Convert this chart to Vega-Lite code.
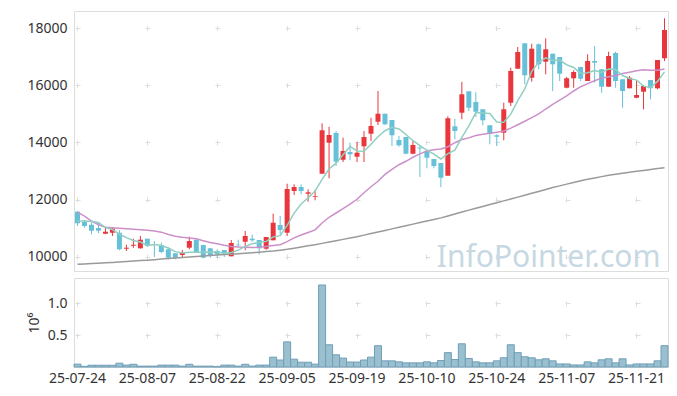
{
  "$schema": "https://vega.github.io/schema/vega-lite/v6.json",
  "background": "white",
  "padding": {"left": 26, "top": 10, "right": 10, "bottom": 5},
  "spacing": 3,
  "config": {
    "font": "Noto Sans",
    "view": {"stroke": "#dddddd", "strokeWidth": 1},
    "axis": {"labelFont": "Noto Sans", "labelFontSize": 14, "labelColor": "#333333", "titleFont": "Noto Sans", "titleFontSize": 14, "titleFontWeight": "normal", "titleColor": "#333333"}
  },
  "data": {"values": [
    {"d":"25-07-24","o":11575,"h":11600,"l":11075,"c":11170,"v":45000,"m5":11250,"m20":11560,"m120":9735},
    {"d":"25-07-25","o":11215,"h":11285,"l":11015,"c":11075,"v":10000,"m5":11250,"m20":11420,"m120":9748},
    {"d":"25-07-28","o":11120,"h":11190,"l":10785,"c":10910,"v":28000,"m5":11230,"m20":11250,"m120":9761},
    {"d":"25-07-29","o":11005,"h":11215,"l":10820,"c":10910,"v":28000,"m5":11200,"m20":11120,"m120":9774},
    {"d":"25-07-30","o":10805,"h":11050,"l":10805,"c":10875,"v":28000,"m5":11020,"m20":11030,"m120":9787},
    {"d":"25-07-31","o":10840,"h":11015,"l":10725,"c":10980,"v":28000,"m5":10950,"m20":11010,"m120":9800},
    {"d":"25-08-01","o":10840,"h":10925,"l":10225,"c":10260,"v":60000,"m5":10787,"m20":10995,"m120":9816},
    {"d":"25-08-04","o":10280,"h":10420,"l":10200,"c":10315,"v":30000,"m5":10668,"m20":10980,"m120":9832},
    {"d":"25-08-05","o":10385,"h":10630,"l":10315,"c":10420,"v":43000,"m5":10570,"m20":10965,"m120":9848},
    {"d":"25-08-06","o":10295,"h":10725,"l":10280,"c":10595,"v":14000,"m5":10514,"m20":10945,"m120":9864},
    {"d":"25-08-07","o":10630,"h":10630,"l":10340,"c":10375,"v":14000,"m5":10393,"m20":10925,"m120":9880},
    {"d":"25-08-08","o":10440,"h":10550,"l":9990,"c":10420,"v":14000,"m5":10425,"m20":10900,"m120":9898},
    {"d":"25-08-11","o":10410,"h":10490,"l":10120,"c":10165,"v":30000,"m5":10395,"m20":10860,"m120":9916},
    {"d":"25-08-12","o":10260,"h":10340,"l":9910,"c":9965,"v":30000,"m5":10304,"m20":10780,"m120":9934},
    {"d":"25-08-13","o":10120,"h":10120,"l":9910,"c":9965,"v":30000,"m5":10178,"m20":10720,"m120":9952},
    {"d":"25-08-14","o":10060,"h":10235,"l":9965,"c":10140,"v":14000,"m5":10131,"m20":10680,"m120":9970},
    {"d":"25-08-18","o":10315,"h":10700,"l":10260,"c":10550,"v":43000,"m5":10157,"m20":10655,"m120":9990},
    {"d":"25-08-19","o":10595,"h":10595,"l":10165,"c":10165,"v":14000,"m5":10157,"m20":10625,"m120":10010},
    {"d":"25-08-20","o":10410,"h":10410,"l":9945,"c":9965,"v":14000,"m5":10157,"m20":10560,"m120":10027},
    {"d":"25-08-21","o":10295,"h":10295,"l":9965,"c":10025,"v":14000,"m5":10169,"m20":10500,"m120":10043},
    {"d":"25-08-22","o":10200,"h":10260,"l":9965,"c":10085,"v":5000,"m5":10158,"m20":10450,"m120":10060},
    {"d":"25-08-25","o":10235,"h":10235,"l":9990,"c":10105,"v":30000,"m5":10120,"m20":10400,"m120":10075},
    {"d":"25-08-26","o":10015,"h":10585,"l":10015,"c":10480,"v":30000,"m5":10150,"m20":10360,"m120":10090},
    {"d":"25-08-27","o":10420,"h":10595,"l":10350,"c":10400,"v":14000,"m5":10230,"m20":10340,"m120":10105},
    {"d":"25-08-28","o":10525,"h":10900,"l":10225,"c":10725,"v":43000,"m5":10359,"m20":10330,"m120":10120},
    {"d":"25-08-29","o":10630,"h":10770,"l":10525,"c":10575,"v":14000,"m5":10457,"m20":10320,"m120":10140},
    {"d":"25-09-01","o":10585,"h":10585,"l":10085,"c":10295,"v":30000,"m5":10495,"m20":10330,"m120":10160},
    {"d":"25-09-02","o":10280,"h":10690,"l":10245,"c":10690,"v":30000,"m5":10537,"m20":10360,"m120":10180},
    {"d":"25-09-03","o":10575,"h":11505,"l":10575,"c":11190,"v":155000,"m5":10695,"m20":10390,"m120":10200},
    {"d":"25-09-04","o":11110,"h":11425,"l":10785,"c":10935,"v":110000,"m5":10737,"m20":10420,"m120":10230},
    {"d":"25-09-05","o":10840,"h":12555,"l":10725,"c":12370,"v":395000,"m5":11096,"m20":10530,"m120":10260},
    {"d":"25-09-08","o":12300,"h":12535,"l":12160,"c":12440,"v":123000,"m5":11525,"m20":10660,"m120":10300},
    {"d":"25-09-09","o":12440,"h":12535,"l":12185,"c":12300,"v":75000,"m5":11847,"m20":10760,"m120":10340},
    {"d":"25-09-10","o":12205,"h":12360,"l":11925,"c":12255,"v":75000,"m5":12060,"m20":10850,"m120":10380},
    {"d":"25-09-11","o":12090,"h":12345,"l":11975,"c":12115,"v":45000,"m5":12296,"m20":10940,"m120":10420},
    {"d":"25-09-12","o":12905,"h":14670,"l":12905,"c":14425,"v":1290000,"m5":12707,"m20":11180,"m120":10467},
    {"d":"25-09-15","o":13990,"h":14550,"l":12745,"c":14260,"v":350000,"m5":13071,"m20":11380,"m120":10513},
    {"d":"25-09-16","o":14330,"h":14400,"l":13175,"c":13325,"v":192000,"m5":13276,"m20":11530,"m120":10560},
    {"d":"25-09-17","o":13395,"h":14165,"l":13315,"c":13700,"v":140000,"m5":13565,"m20":11680,"m120":10607},
    {"d":"25-09-18","o":13665,"h":13990,"l":13375,"c":13585,"v":78000,"m5":13859,"m20":11840,"m120":10653},
    {"d":"25-09-19","o":13500,"h":14015,"l":13315,"c":13640,"v":78000,"m5":13702,"m20":12010,"m120":10700},
    {"d":"25-09-22","o":13865,"h":14400,"l":13315,"c":14190,"v":110000,"m5":13688,"m20":12240,"m120":10755},
    {"d":"25-09-23","o":14305,"h":14865,"l":14050,"c":14575,"v":155000,"m5":13938,"m20":12450,"m120":10810},
    {"d":"25-09-24","o":14725,"h":15800,"l":14610,"c":15005,"v":335000,"m5":14199,"m20":12640,"m120":10865},
    {"d":"25-09-25","o":15005,"h":15005,"l":14610,"c":14635,"v":97000,"m5":14409,"m20":12880,"m120":10920},
    {"d":"25-09-26","o":14785,"h":14785,"l":13875,"c":14250,"v":97000,"m5":14531,"m20":13060,"m120":10975},
    {"d":"25-09-29","o":14085,"h":14225,"l":13850,"c":13900,"v":81000,"m5":14473,"m20":13220,"m120":11030},
    {"d":"25-09-30","o":14190,"h":14190,"l":13585,"c":13605,"v":65000,"m5":14279,"m20":13340,"m120":11085},
    {"d":"25-10-01","o":13605,"h":14050,"l":13585,"c":13910,"v":65000,"m5":14060,"m20":13480,"m120":11140},
    {"d":"25-10-02","o":13820,"h":13875,"l":12790,"c":13790,"v":65000,"m5":13891,"m20":13600,"m120":11195},
    {"d":"25-10-10","o":13700,"h":13760,"l":13095,"c":13465,"v":81000,"m5":13734,"m20":13700,"m120":11250},
    {"d":"25-10-13","o":13420,"h":13420,"l":13095,"c":13175,"v":65000,"m5":13589,"m20":13740,"m120":11305},
    {"d":"25-10-14","o":13280,"h":13280,"l":12440,"c":12765,"v":102000,"m5":13421,"m20":13770,"m120":11360},
    {"d":"25-10-15","o":12835,"h":14915,"l":12835,"c":14845,"v":226000,"m5":13608,"m20":13850,"m120":11428},
    {"d":"25-10-16","o":14565,"h":14830,"l":14110,"c":14400,"v":118000,"m5":13730,"m20":13990,"m120":11495},
    {"d":"25-10-17","o":15040,"h":16120,"l":14810,"c":15685,"v":365000,"m5":14174,"m20":14100,"m120":11563},
    {"d":"25-10-20","o":15790,"h":15790,"l":15100,"c":15215,"v":134000,"m5":14582,"m20":14160,"m120":11630},
    {"d":"25-10-21","o":15415,"h":15755,"l":14890,"c":15075,"v":81000,"m5":15044,"m20":14240,"m120":11695},
    {"d":"25-10-22","o":15160,"h":15160,"l":14600,"c":14775,"v":65000,"m5":15030,"m20":14290,"m120":11760},
    {"d":"25-10-23","o":14600,"h":14600,"l":13935,"c":14305,"v":65000,"m5":15011,"m20":14320,"m120":11825},
    {"d":"25-10-24","o":14250,"h":14290,"l":13875,"c":14200,"v":97000,"m5":14714,"m20":14360,"m120":11890},
    {"d":"25-10-27","o":14340,"h":15390,"l":14075,"c":15160,"v":145000,"m5":14703,"m20":14400,"m120":11955},
    {"d":"25-10-28","o":15390,"h":16615,"l":15275,"c":16500,"v":350000,"m5":14988,"m20":14500,"m120":12020},
    {"d":"25-10-29","o":16580,"h":17340,"l":16580,"c":17165,"v":226000,"m5":15466,"m20":14620,"m120":12085},
    {"d":"25-10-30","o":17470,"h":17470,"l":16035,"c":16350,"v":161000,"m5":15875,"m20":14740,"m120":12150},
    {"d":"25-10-31","o":16265,"h":17455,"l":16125,"c":17280,"v":145000,"m5":16491,"m20":14870,"m120":12218},
    {"d":"25-11-03","o":17435,"h":17470,"l":16560,"c":16735,"v":113000,"m5":16806,"m20":15000,"m120":12285},
    {"d":"25-11-04","o":16825,"h":17645,"l":16385,"c":17260,"v":129000,"m5":16958,"m20":15170,"m120":12353},
    {"d":"25-11-05","o":17105,"h":17105,"l":15800,"c":16735,"v":97000,"m5":16872,"m20":15330,"m120":12420},
    {"d":"25-11-06","o":16990,"h":16990,"l":16150,"c":16405,"v":48000,"m5":16883,"m20":15480,"m120":12480},
    {"d":"25-11-07","o":15915,"h":16290,"l":15895,"c":16245,"v":48000,"m5":16720,"m20":15630,"m120":12540},
    {"d":"25-11-10","o":16245,"h":16525,"l":15915,"c":16465,"v":32000,"m5":16622,"m20":15800,"m120":12600},
    {"d":"25-11-11","o":16640,"h":16640,"l":16150,"c":16230,"v":32000,"m5":16416,"m20":15950,"m120":12660},
    {"d":"25-11-12","o":16150,"h":17085,"l":16150,"c":16850,"v":81000,"m5":16439,"m20":16060,"m120":12708},
    {"d":"25-11-13","o":16850,"h":17375,"l":16095,"c":16790,"v":65000,"m5":16516,"m20":16160,"m120":12755},
    {"d":"25-11-14","o":16560,"h":16560,"l":15740,"c":15950,"v":113000,"m5":16457,"m20":16250,"m120":12803},
    {"d":"25-11-17","o":15950,"h":17175,"l":15950,"c":17025,"v":129000,"m5":16569,"m20":16300,"m120":12850},
    {"d":"25-11-18","o":17130,"h":17175,"l":15915,"c":16150,"v":65000,"m5":16553,"m20":16340,"m120":12885},
    {"d":"25-11-19","o":16210,"h":16210,"l":15215,"c":15800,"v":129000,"m5":16343,"m20":16410,"m120":12920},
    {"d":"25-11-20","o":15895,"h":16325,"l":15895,"c":16265,"v":32000,"m5":16238,"m20":16460,"m120":12955},
    {"d":"25-11-21","o":15565,"h":16150,"l":15545,"c":15660,"v":48000,"m5":16180,"m20":16510,"m120":12990},
    {"d":"25-11-24","o":15775,"h":16010,"l":15160,"c":15975,"v":48000,"m5":15970,"m20":16540,"m120":13021},
    {"d":"25-11-25","o":16185,"h":16185,"l":15510,"c":15895,"v":48000,"m5":15919,"m20":16530,"m120":13053},
    {"d":"25-11-26","o":15895,"h":16885,"l":15860,"c":16885,"v":97000,"m5":16136,"m20":16525,"m120":13084},
    {"d":"25-11-27","o":16945,"h":18345,"l":16850,"c":17935,"v":335000,"m5":16470,"m20":16570,"m120":13115}
  ]},
  "vconcat": [
    {
      "width": 594,
      "height": 260,
      "encoding": {
        "x": {"field": "d", "type": "ordinal", "sort": null,
          "scale": {"paddingInner": 0, "paddingOuter": 0},
          "axis": {"title": null, "labels": false, "ticks": false, "domain": false, "bandPosition": 0.5, "labelPadding": 0,
            "values": ["25-07-24","25-08-07","25-08-22","25-09-05","25-09-19","25-10-10","25-10-24","25-11-07","25-11-21"],
            "grid": true, "gridColor": "#dddddd", "gridDash": [5, 52.14], "gridDashOffset": 42.5}}
      },
      "layer": [
        {
          "mark": {"type": "rule", "strokeWidth": 1},
          "encoding": {
            "y": {"field": "l", "type": "quantitative",
              "scale": {"domain": [9500, 18600], "zero": false, "nice": false},
              "axis": {"title": null, "values": [10000, 12000, 14000, 16000, 18000], "format": "d", "domain": false, "ticks": false, "labelPadding": 7,
                "grid": true, "gridColor": "#dddddd", "gridDash": [5, 65], "gridDashOffset": 69}},
            "y2": {"field": "h"},
            "color": {"condition": {"test": "datum.c > datum.o", "value": "#e8363c"}, "value": "#66c0d8"}
          }
        },
        {
          "mark": {"type": "bar", "size": 5},
          "encoding": {
            "y": {"field": "o", "type": "quantitative"},
            "y2": {"field": "c"},
            "color": {"condition": {"test": "datum.c > datum.o", "value": "#e8363c"}, "value": "#66c0d8"}
          }
        },
        {
          "mark": {"type": "line", "strokeWidth": 1.5, "color": "#9a9a9a"},
          "encoding": {"y": {"field": "m120", "type": "quantitative"}}
        },
        {
          "mark": {"type": "line", "strokeWidth": 1.5, "color": "#cc8fca"},
          "encoding": {"y": {"field": "m20", "type": "quantitative"}}
        },
        {
          "mark": {"type": "line", "strokeWidth": 1.5, "color": "#90cfc2"},
          "encoding": {"y": {"field": "m5", "type": "quantitative"}}
        },
        {
          "data": {"values": [{"label": "InfoPointer.com"}]},
          "mark": {"type": "text", "align": "right", "baseline": "alphabetic", "fontSize": 30, "font": "Noto Sans", "color": "#c6d8e2", "dx": -4},
          "encoding": {
            "text": {"field": "label"},
            "x": {"datum": "25-11-27"},
            "y": {"datum": 9640}
          }
        }
      ]
    },
    {
      "width": 594,
      "height": 89,
      "mark": {"type": "bar", "color": "#9abfcf", "stroke": "#6f9fb8", "strokeWidth": 1},
      "encoding": {
        "x": {"field": "d", "type": "ordinal", "sort": null,
          "scale": {"paddingInner": 0, "paddingOuter": 0},
          "axis": {"title": null, "labelAngle": 0, "ticks": false, "domain": false, "labelPadding": 4, "bandPosition": 0.5,
            "values": ["25-07-24","25-08-07","25-08-22","25-09-05","25-09-19","25-10-10","25-10-24","25-11-07","25-11-21"],
            "grid": true, "gridColor": "#dddddd", "gridDash": [5, 26.8], "gridDashOffset": 8.9}},
        "y": {"field": "v", "type": "quantitative",
          "scale": {"domain": [0, 1400000], "nice": false},
          "axis": {"title": "10⁶", "values": [500000, 1000000], "labelExpr": "format(datum.value / 1000000, '.1f')", "domain": false, "ticks": false, "labelPadding": 7, "titlePadding": 6,
            "grid": true, "gridColor": "#dddddd", "gridDash": [5, 65], "gridDashOffset": 69}}
      }
    }
  ]
}
